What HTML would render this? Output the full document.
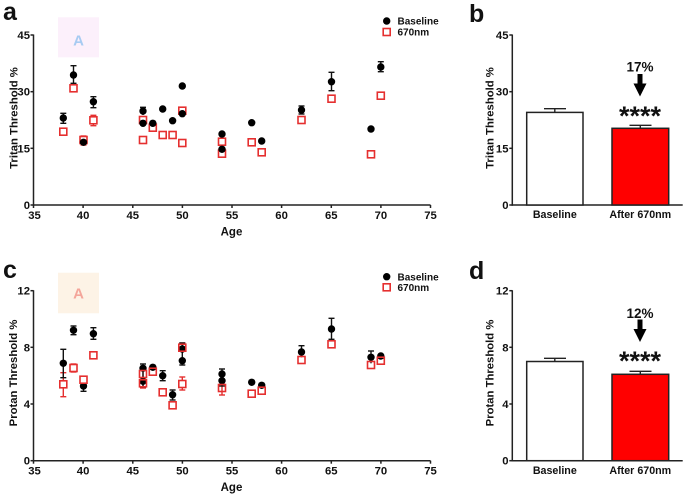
<!DOCTYPE html>
<html>
<head>
<meta charset="utf-8">
<style>
  html,body{margin:0;padding:0;background:#fff;}
  svg{display:block;}
  text{font-family:"Liberation Sans",Arial,sans-serif;font-weight:bold;fill:#111;}
</style>
</head>
<body>
<svg width="685" height="496" viewBox="0 0 685 496" xmlns="http://www.w3.org/2000/svg">
  <!-- Panel letters -->
  <text x="3" y="20" font-size="25">a</text>
  <text x="469" y="22" font-size="25">b</text>
  <text x="3" y="278" font-size="25">c</text>
  <text x="469" y="279" font-size="25">d</text>

  <!-- ========== PANEL A ========== -->
  <rect x="58" y="17.3" width="41" height="40" fill="#fcf0fb"/>
  <text x="78.5" y="45.3" font-size="15" text-anchor="middle" style="fill:#a8cbf2">A</text>

  <g stroke="#222" stroke-width="1.5" fill="none">
    <line x1="33.5" y1="34.5" x2="33.5" y2="205.7"/>
    <line x1="32.8" y1="205" x2="430.5" y2="205"/>
    <line x1="30.5" y1="35" x2="33.5" y2="35"/>
    <line x1="30.5" y1="91.7" x2="33.5" y2="91.7"/>
    <line x1="30.5" y1="148.3" x2="33.5" y2="148.3"/>
    <line x1="30.5" y1="205" x2="33.5" y2="205"/>
    <line x1="33.5" y1="205" x2="33.5" y2="208"/>
    <line x1="83.1" y1="205" x2="83.1" y2="208"/>
    <line x1="132.8" y1="205" x2="132.8" y2="208"/>
    <line x1="182.4" y1="205" x2="182.4" y2="208"/>
    <line x1="232" y1="205" x2="232" y2="208"/>
    <line x1="281.6" y1="205" x2="281.6" y2="208"/>
    <line x1="331.3" y1="205" x2="331.3" y2="208"/>
    <line x1="380.9" y1="205" x2="380.9" y2="208"/>
    <line x1="430.5" y1="205" x2="430.5" y2="208"/>
  </g>
  <g font-size="11.3" text-anchor="end">
    <text x="30" y="39">45</text>
    <text x="30" y="95.7">30</text>
    <text x="30" y="152.3">15</text>
    <text x="30" y="209">0</text>
  </g>
  <g font-size="11.3" text-anchor="middle">
    <text x="34.5" y="219">35</text>
    <text x="83.1" y="219">40</text>
    <text x="132.8" y="219">45</text>
    <text x="182.4" y="219">50</text>
    <text x="232" y="219">55</text>
    <text x="281.6" y="219">60</text>
    <text x="331.3" y="219">65</text>
    <text x="380.9" y="219">70</text>
    <text x="430.5" y="219">75</text>
  </g>
  <text x="231.5" y="235.5" font-size="11.5" text-anchor="middle">Age</text>
  <text transform="translate(17.5,118) rotate(-90)" font-size="11.3" text-anchor="middle">Tritan Threshold %</text>

  <!-- red error bars A -->
  <g stroke="#e52f2f" stroke-width="1.4">
    <line x1="83.5" y1="136" x2="83.5" y2="145"/><line x1="80.5" y1="136" x2="86.5" y2="136"/><line x1="80.5" y1="145" x2="86.5" y2="145"/>
    <line x1="93.4" y1="115.3" x2="93.4" y2="125.7"/><line x1="90.4" y1="115.3" x2="96.4" y2="115.3"/><line x1="90.4" y1="125.7" x2="96.4" y2="125.7"/>
  </g>
  <!-- red squares A -->
  <g fill="#fff" stroke="#e52f2f" stroke-width="1.6">
    <rect x="59.8" y="128.2" width="7" height="7"/>
    <rect x="70" y="84.8" width="7" height="7"/>
    <rect x="80" y="136.5" width="7" height="7"/>
    <rect x="89.9" y="116.8" width="7" height="7"/>
    <rect x="139.5" y="116.5" width="7" height="7"/>
    <rect x="139.5" y="136.5" width="7" height="7"/>
    <rect x="149.3" y="124.2" width="7" height="7"/>
    <rect x="159.2" y="131.5" width="7" height="7"/>
    <rect x="169.1" y="131.5" width="7" height="7"/>
    <rect x="178.8" y="107.2" width="7" height="7"/>
    <rect x="178.8" y="139.5" width="7" height="7"/>
    <rect x="218.5" y="138.2" width="7" height="7"/>
    <rect x="218.5" y="150.2" width="7" height="7"/>
    <rect x="248.2" y="138.8" width="7" height="7"/>
    <rect x="258.2" y="148.8" width="7" height="7"/>
    <rect x="298" y="116.5" width="7" height="7"/>
    <rect x="328" y="95.2" width="7" height="7"/>
    <rect x="367.5" y="150.8" width="7" height="7"/>
    <rect x="377.3" y="92.2" width="7" height="7"/>
  </g>
  <!-- black error bars A -->
  <g stroke="#111" stroke-width="1.4">
    <line x1="63.3" y1="113.3" x2="63.3" y2="123.3"/><line x1="60.3" y1="113.3" x2="66.3" y2="113.3"/><line x1="60.3" y1="123.3" x2="66.3" y2="123.3"/>
    <line x1="73.5" y1="65.7" x2="73.5" y2="83.3"/><line x1="70.5" y1="65.7" x2="76.5" y2="65.7"/><line x1="70.5" y1="83.3" x2="76.5" y2="83.3"/>
    <line x1="93.4" y1="96.7" x2="93.4" y2="107.7"/><line x1="90.4" y1="96.7" x2="96.4" y2="96.7"/><line x1="90.4" y1="107.7" x2="96.4" y2="107.7"/>
    <line x1="143" y1="107.3" x2="143" y2="115"/><line x1="140" y1="107.3" x2="146" y2="107.3"/>
    <line x1="301.5" y1="106" x2="301.5" y2="114"/><line x1="298.5" y1="106" x2="304.5" y2="106"/><line x1="298.5" y1="114" x2="304.5" y2="114"/>
    <line x1="331.5" y1="72.3" x2="331.5" y2="90.7"/><line x1="328.5" y1="72.3" x2="334.5" y2="72.3"/><line x1="328.5" y1="90.7" x2="334.5" y2="90.7"/>
    <line x1="380.8" y1="61.7" x2="380.8" y2="71.7"/><line x1="377.8" y1="61.7" x2="383.8" y2="61.7"/><line x1="377.8" y1="71.7" x2="383.8" y2="71.7"/>
  </g>
  <!-- black dots A -->
  <g fill="#000">
    <circle cx="63.3" cy="118" r="3.7"/>
    <circle cx="73.5" cy="75" r="3.7"/>
    <circle cx="83.5" cy="142.3" r="3.7"/>
    <circle cx="93.4" cy="101.7" r="3.7"/>
    <circle cx="143" cy="111" r="3.7"/>
    <circle cx="143" cy="123.3" r="3.7"/>
    <circle cx="152.8" cy="123.3" r="3.7"/>
    <circle cx="162.7" cy="109" r="3.7"/>
    <circle cx="172.6" cy="120.7" r="3.7"/>
    <circle cx="182.3" cy="86" r="3.7"/>
    <circle cx="182.3" cy="113.7" r="3.7"/>
    <circle cx="222" cy="134" r="3.7"/>
    <circle cx="222" cy="149.3" r="3.7"/>
    <circle cx="251.7" cy="122.7" r="3.7"/>
    <circle cx="261.7" cy="141" r="3.7"/>
    <circle cx="301.5" cy="110" r="3.7"/>
    <circle cx="331.5" cy="81.7" r="3.7"/>
    <circle cx="371" cy="129" r="3.7"/>
    <circle cx="380.8" cy="67" r="3.7"/>
  </g>
  <!-- legend A -->
  <circle cx="386.7" cy="21" r="3.7" fill="#000"/>
  <rect x="383.2" y="28.5" width="7" height="7" fill="#fff" stroke="#e52f2f" stroke-width="1.6"/>
  <text x="397.5" y="24.6" font-size="10">Baseline</text>
  <text x="397.5" y="35.6" font-size="10">670nm</text>

  <!-- ========== PANEL B ========== -->
  <g stroke="#222" stroke-width="1.5" fill="none">
    <line x1="512.3" y1="34.5" x2="512.3" y2="205.7"/>
    <line x1="511.6" y1="205" x2="682.7" y2="205"/>
    <line x1="509.3" y1="35" x2="512.3" y2="35"/>
    <line x1="509.3" y1="91.7" x2="512.3" y2="91.7"/>
    <line x1="509.3" y1="148.3" x2="512.3" y2="148.3"/>
    <line x1="509.3" y1="205" x2="512.3" y2="205"/>
  </g>
  <g font-size="11.3" text-anchor="end">
    <text x="508.5" y="39">45</text>
    <text x="508.5" y="95.7">30</text>
    <text x="508.5" y="152.3">15</text>
    <text x="508.5" y="209">0</text>
  </g>
  <text transform="translate(493.5,118) rotate(-90)" font-size="11.3" text-anchor="middle">Tritan Threshold %</text>
  <g stroke="#222" stroke-width="1.4">
    <line x1="554.8" y1="108.7" x2="554.8" y2="112.4"/><line x1="544" y1="108.7" x2="566" y2="108.7"/>
    <line x1="640.3" y1="125.3" x2="640.3" y2="128.3"/><line x1="629.5" y1="125.3" x2="651.5" y2="125.3"/>
  </g>
  <rect x="526.7" y="112.4" width="56.3" height="92.6" fill="#fff" stroke="#222" stroke-width="1.5"/>
  <rect x="612" y="128.3" width="56.7" height="76.7" fill="#ff0000" stroke="#222" stroke-width="1.5"/>
  <text x="554.8" y="218" font-size="10.7" text-anchor="middle">Baseline</text>
  <text x="640.3" y="218" font-size="10.7" text-anchor="middle">After 670nm</text>
  <text x="640" y="71.5" font-size="13.5" text-anchor="middle">17%</text>
  <polygon points="637.5,74 642.5,74 642.5,83.5 646.5,83.5 640,96.5 633.5,83.5 637.5,83.5" fill="#000"/>
  <text x="640" y="125" font-size="27" text-anchor="middle">****</text>

  <!-- ========== PANEL C ========== -->
  <rect x="58" y="272.7" width="41" height="40.6" fill="#fdf3e6"/>
  <text x="78.5" y="298.3" font-size="15" text-anchor="middle" style="fill:#f4a69b">A</text>

  <g stroke="#222" stroke-width="1.5" fill="none">
    <line x1="33.5" y1="290.2" x2="33.5" y2="461.4"/>
    <line x1="32.8" y1="460.7" x2="430.5" y2="460.7"/>
    <line x1="30.5" y1="290.7" x2="33.5" y2="290.7"/>
    <line x1="30.5" y1="347.3" x2="33.5" y2="347.3"/>
    <line x1="30.5" y1="404" x2="33.5" y2="404"/>
    <line x1="30.5" y1="460.7" x2="33.5" y2="460.7"/>
    <line x1="33.5" y1="460.7" x2="33.5" y2="463.7"/>
    <line x1="83.1" y1="460.7" x2="83.1" y2="463.7"/>
    <line x1="132.8" y1="460.7" x2="132.8" y2="463.7"/>
    <line x1="182.4" y1="460.7" x2="182.4" y2="463.7"/>
    <line x1="232" y1="460.7" x2="232" y2="463.7"/>
    <line x1="281.6" y1="460.7" x2="281.6" y2="463.7"/>
    <line x1="331.3" y1="460.7" x2="331.3" y2="463.7"/>
    <line x1="380.9" y1="460.7" x2="380.9" y2="463.7"/>
    <line x1="430.5" y1="460.7" x2="430.5" y2="463.7"/>
  </g>
  <g font-size="11.3" text-anchor="end">
    <text x="30" y="294.7">12</text>
    <text x="30" y="351.3">8</text>
    <text x="30" y="408">4</text>
    <text x="30" y="464.7">0</text>
  </g>
  <g font-size="11.3" text-anchor="middle">
    <text x="34.5" y="474.7">35</text>
    <text x="83.1" y="474.7">40</text>
    <text x="132.8" y="474.7">45</text>
    <text x="182.4" y="474.7">50</text>
    <text x="232" y="474.7">55</text>
    <text x="281.6" y="474.7">60</text>
    <text x="331.3" y="474.7">65</text>
    <text x="380.9" y="474.7">70</text>
    <text x="430.5" y="474.7">75</text>
  </g>
  <text x="231.5" y="491" font-size="11.5" text-anchor="middle">Age</text>
  <text transform="translate(17,373) rotate(-90)" font-size="11.3" text-anchor="middle">Protan Threshold %</text>

  <!-- red error bars C -->
  <g stroke="#e52f2f" stroke-width="1.4">
    <line x1="63.3" y1="372.7" x2="63.3" y2="396.7"/><line x1="60.3" y1="372.7" x2="66.3" y2="372.7"/><line x1="60.3" y1="396.7" x2="66.3" y2="396.7"/>
    <line x1="73.5" y1="364" x2="73.5" y2="372"/><line x1="70.5" y1="364" x2="76.5" y2="364"/><line x1="70.5" y1="372" x2="76.5" y2="372"/>
    <line x1="143" y1="371" x2="143" y2="388"/><line x1="140" y1="388" x2="146" y2="388"/>
    <line x1="182.3" y1="343" x2="182.3" y2="352"/><line x1="179.3" y1="343" x2="185.3" y2="343"/>
    <line x1="182.3" y1="377" x2="182.3" y2="390"/><line x1="179.3" y1="377" x2="185.3" y2="377"/><line x1="179.3" y1="390" x2="185.3" y2="390"/>
    <line x1="222" y1="383" x2="222" y2="395"/><line x1="219" y1="395" x2="225" y2="395"/>
  </g>
  <!-- black error bars C -->
  <g stroke="#111" stroke-width="1.4">
    <line x1="63.3" y1="349.3" x2="63.3" y2="377.7"/><line x1="60.3" y1="349.3" x2="66.3" y2="349.3"/><line x1="60.3" y1="377.7" x2="66.3" y2="377.7"/>
    <line x1="73.5" y1="326" x2="73.5" y2="334.7"/><line x1="70.5" y1="326" x2="76.5" y2="326"/><line x1="70.5" y1="334.7" x2="76.5" y2="334.7"/>
    <line x1="83.5" y1="381.7" x2="83.5" y2="391.3"/><line x1="80.5" y1="381.7" x2="86.5" y2="381.7"/><line x1="80.5" y1="391.3" x2="86.5" y2="391.3"/>
    <line x1="93.4" y1="327.7" x2="93.4" y2="339.3"/><line x1="90.4" y1="327.7" x2="96.4" y2="327.7"/><line x1="90.4" y1="339.3" x2="96.4" y2="339.3"/>
    <line x1="143" y1="364" x2="143" y2="387"/><line x1="140" y1="364" x2="146" y2="364"/><line x1="140" y1="387" x2="146" y2="387"/>
    <line x1="162.7" y1="370.7" x2="162.7" y2="380.7"/><line x1="159.7" y1="370.7" x2="165.7" y2="370.7"/><line x1="159.7" y1="380.7" x2="165.7" y2="380.7"/>
    <line x1="172.6" y1="390" x2="172.6" y2="400"/><line x1="169.6" y1="390" x2="175.6" y2="390"/><line x1="169.6" y1="400" x2="175.6" y2="400"/>
    <line x1="182.3" y1="343" x2="182.3" y2="365"/><line x1="179.3" y1="343" x2="185.3" y2="343"/><line x1="179.3" y1="365" x2="185.3" y2="365"/>
    <line x1="222" y1="369" x2="222" y2="386"/><line x1="219" y1="369" x2="225" y2="369"/><line x1="219" y1="386" x2="225" y2="386"/>
    <line x1="301.5" y1="345.7" x2="301.5" y2="357.3"/><line x1="298.5" y1="345.7" x2="304.5" y2="345.7"/>
    <line x1="331.5" y1="318.3" x2="331.5" y2="339.3"/><line x1="328.5" y1="318.3" x2="334.5" y2="318.3"/><line x1="328.5" y1="339.3" x2="334.5" y2="339.3"/>
    <line x1="371" y1="351" x2="371" y2="363.3"/><line x1="368" y1="351" x2="374" y2="351"/>
  </g>
  <!-- black dots C -->
  <g fill="#000">
    <circle cx="63.3" cy="363.3" r="3.7"/>
    <circle cx="73.5" cy="330.3" r="3.7"/>
    <circle cx="83.5" cy="386" r="3.7"/>
    <circle cx="93.4" cy="333.7" r="3.7"/>
    <circle cx="143" cy="368.3" r="3.7"/>
    <circle cx="143" cy="381.3" r="3.7"/>
    <circle cx="152.8" cy="367.3" r="3.7"/>
    <circle cx="162.7" cy="375.7" r="3.7"/>
    <circle cx="172.6" cy="394.7" r="3.7"/>
    <circle cx="182.3" cy="349" r="3.7"/>
    <circle cx="182.3" cy="360.7" r="3.7"/>
    <circle cx="222" cy="374" r="3.7"/>
    <circle cx="222" cy="380.7" r="3.7"/>
    <circle cx="251.7" cy="382.3" r="3.7"/>
    <circle cx="261.7" cy="385.3" r="3.7"/>
    <circle cx="301.5" cy="352" r="3.7"/>
    <circle cx="331.5" cy="329" r="3.7"/>
    <circle cx="371" cy="357.3" r="3.7"/>
    <circle cx="380.8" cy="356" r="3.7"/>
  </g>
  <!-- red squares C -->
  <g fill="none" stroke="#e52f2f" stroke-width="1.6">
    <rect x="59.8" y="380.8" width="7" height="7" fill="#fff"/>
    <rect x="70" y="364.5" width="7" height="7" fill="#fff"/>
    <rect x="80" y="376.2" width="7" height="7" fill="#fff"/>
    <rect x="89.9" y="351.8" width="7" height="7" fill="#fff"/>
    <rect x="139.5" y="370.5" width="7" height="7"/>
    <rect x="139.5" y="379.8" width="7" height="7"/>
    <rect x="149.3" y="368.2" width="7" height="7"/>
    <rect x="159.2" y="388.8" width="7" height="7" fill="#fff"/>
    <rect x="169.1" y="401.8" width="7" height="7" fill="#fff"/>
    <rect x="178.8" y="344.2" width="7" height="7"/>
    <rect x="178.8" y="380.5" width="7" height="7" fill="#fff"/>
    <rect x="218.5" y="384.5" width="7" height="7"/>
    <rect x="248.2" y="390.2" width="7" height="7" fill="#fff"/>
    <rect x="258.2" y="387.2" width="7" height="7"/>
    <rect x="298" y="356.5" width="7" height="7"/>
    <rect x="328" y="340.8" width="7" height="7" fill="#fff"/>
    <rect x="367.5" y="361.5" width="7" height="7"/>
    <rect x="377.3" y="357.2" width="7" height="7"/>
  </g>
  <!-- legend C -->
  <circle cx="386.7" cy="276.7" r="3.7" fill="#000"/>
  <rect x="383.2" y="283.8" width="7" height="7" fill="#fff" stroke="#e52f2f" stroke-width="1.6"/>
  <text x="397.5" y="280.3" font-size="10">Baseline</text>
  <text x="397.5" y="291" font-size="10">670nm</text>

  <!-- ========== PANEL D ========== -->
  <g stroke="#222" stroke-width="1.5" fill="none">
    <line x1="512.3" y1="290.2" x2="512.3" y2="461.4"/>
    <line x1="511.6" y1="460.7" x2="682.7" y2="460.7"/>
    <line x1="509.3" y1="290.7" x2="512.3" y2="290.7"/>
    <line x1="509.3" y1="347.3" x2="512.3" y2="347.3"/>
    <line x1="509.3" y1="404" x2="512.3" y2="404"/>
    <line x1="509.3" y1="460.7" x2="512.3" y2="460.7"/>
  </g>
  <g font-size="11.3" text-anchor="end">
    <text x="508.5" y="294.7">12</text>
    <text x="508.5" y="351.3">8</text>
    <text x="508.5" y="408">4</text>
    <text x="508.5" y="464.7">0</text>
  </g>
  <text transform="translate(493.5,373) rotate(-90)" font-size="11.3" text-anchor="middle">Protan Threshold %</text>
  <g stroke="#222" stroke-width="1.4">
    <line x1="554.8" y1="358.3" x2="554.8" y2="361.5"/><line x1="544" y1="358.3" x2="566" y2="358.3"/>
    <line x1="640.3" y1="371.3" x2="640.3" y2="374.3"/><line x1="629.5" y1="371.3" x2="651.5" y2="371.3"/>
  </g>
  <rect x="526.7" y="361.5" width="56.3" height="99.2" fill="#fff" stroke="#222" stroke-width="1.5"/>
  <rect x="612" y="374.3" width="56.7" height="86.4" fill="#ff0000" stroke="#222" stroke-width="1.5"/>
  <text x="554.8" y="474" font-size="10.7" text-anchor="middle">Baseline</text>
  <text x="640.3" y="474" font-size="10.7" text-anchor="middle">After 670nm</text>
  <text x="640" y="318" font-size="13.5" text-anchor="middle">12%</text>
  <polygon points="637.5,319.5 642.5,319.5 642.5,329 646.5,329 640,342 633.5,329 637.5,329" fill="#000"/>
  <text x="640" y="370" font-size="27" text-anchor="middle">****</text>
</svg>
</body>
</html>
